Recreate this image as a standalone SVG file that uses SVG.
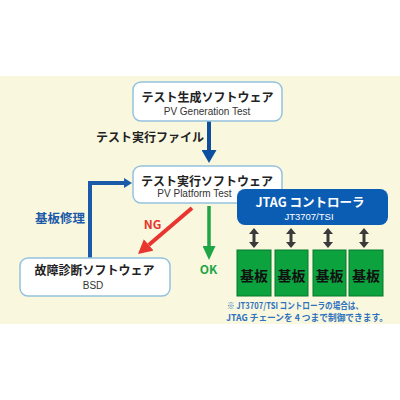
<svg xmlns="http://www.w3.org/2000/svg" width="400" height="400" viewBox="0 0 400 400">
<style>
.jp{font-family:"Noto Sans CJK JP","Liberation Sans",sans-serif;font-weight:bold;}
.lat{font-family:"Liberation Sans","Noto Sans CJK JP",sans-serif;}
.box{fill:#ffffff;stroke:#94c2de;stroke-width:1.5;}
.board{fill:#0ca23e;stroke:#06792c;stroke-width:1;}
.ttl{font-size:12px;fill:#222222;text-anchor:middle;}
.sub{font-size:10px;fill:#333333;text-anchor:middle;}
</style>
<defs>
<marker id="hBlue" markerUnits="userSpaceOnUse" viewBox="0 0 13 15" markerWidth="13" markerHeight="15" refX="0" refY="7.5" orient="auto"><path d="M0,0 L13,7.5 L0,15 z" fill="#0c4f9e"/></marker>
<marker id="hBlueS" markerUnits="userSpaceOnUse" viewBox="0 0 8 10" markerWidth="8" markerHeight="10" refX="0" refY="5" orient="auto"><path d="M0,0 L8,5 L0,10 z" fill="#1a5aa8"/></marker>
<marker id="hRed" markerUnits="userSpaceOnUse" viewBox="0 0 14 15" markerWidth="14" markerHeight="15" refX="0" refY="7.5" orient="auto"><path d="M0,0 L14,7.5 L0,15 z" fill="#e83530"/></marker>
<marker id="hGreen" markerUnits="userSpaceOnUse" viewBox="0 0 14 13" markerWidth="14" markerHeight="13" refX="0" refY="6.5" orient="auto"><path d="M0,0 L14,6.5 L0,13 z" fill="#1ea546"/></marker>
<marker id="hGray" markerUnits="userSpaceOnUse" viewBox="0 0 6 10" markerWidth="6" markerHeight="10" refX="0" refY="5" orient="auto-start-reverse"><path d="M0,0 L6,5 L0,10 z" fill="#3a3a3a"/></marker>
</defs>
<rect x="0" y="76" width="400" height="248" fill="#f9f8df"/>

<g id="connectors">
<path d="M209,121 V150" stroke="#0c4f9e" stroke-width="4" fill="none" marker-end="url(#hBlue)"/>
<path d="M90,258 V183 H124" stroke="#1a5aa8" stroke-width="4" fill="none" marker-end="url(#hBlueS)"/>
<path d="M192,208 L148.7,244.9" stroke="#e83530" stroke-width="4" fill="none" marker-end="url(#hRed)"/>
<path d="M209,206 V246" stroke="#1ea546" stroke-width="3.5" fill="none" marker-end="url(#hGreen)"/>
<g stroke="#3a3a3a" stroke-width="3" fill="none" marker-start="url(#hGray)" marker-end="url(#hGray)">
<path d="M254,234 V242"/>
<path d="M291,234 V242"/>
<path d="M328,234 V242"/>
<path d="M364,234 V242"/>
</g>
<text class="jp" x="150" y="142" font-size="12" fill="#222222" text-anchor="middle">テスト実行ファイル</text>
<text class="jp" x="60" y="223" font-size="12.5" fill="#1a5aa8" text-anchor="middle">基板修理</text>
<text class="jp" x="152.5" y="229" font-size="12" fill="#e83530" text-anchor="middle">NG</text>
<text class="jp" x="208.5" y="274" font-size="12" fill="#1ea546" text-anchor="middle">OK</text>
</g>

<g id="gen">
<rect class="box" x="133" y="82" width="149" height="39" rx="8"/>
<text class="jp ttl" x="207.5" y="102">テスト生成ソフトウェア</text>
<text class="lat sub" x="207" y="115">PV Generation Test</text>
</g>

<g id="exec">
<rect class="box" x="133" y="166" width="149" height="37" rx="8"/>
<text class="jp ttl" x="207" y="185.5">テスト実行ソフトウェア</text>
<text class="lat sub" x="194.5" y="197">PV Platform Test</text>
</g>

<g id="bsd">
<rect class="box" x="20" y="258" width="150" height="38" rx="8"/>
<text class="jp ttl" x="94.5" y="275">故障診断ソフトウェア</text>
<text class="lat sub" x="93" y="289">BSD</text>
</g>

<g id="jtag">
<rect x="237" y="189" width="151" height="36" rx="8" fill="#0b5db3"/>
<text class="jp" x="310" y="206.5" font-size="12.5" fill="#ffffff" text-anchor="middle">JTAG コントローラ</text>
<text class="lat" x="309" y="220" font-size="9.5" fill="#ffffff" text-anchor="middle">JT3707/TSI</text>
</g>

<g id="board1"><rect class="board" x="237" y="250" width="34" height="46"/><text class="jp" x="254" y="281" font-size="14" fill="#111111" text-anchor="middle">基板</text></g>
<g id="board2"><rect class="board" x="275" y="250" width="33" height="46"/><text class="jp" x="291.5" y="281" font-size="14" fill="#111111" text-anchor="middle">基板</text></g>
<g id="board3"><rect class="board" x="313" y="250" width="33" height="46"/><text class="jp" x="329.5" y="281" font-size="14" fill="#111111" text-anchor="middle">基板</text></g>
<g id="board4"><rect class="board" x="349" y="250" width="34" height="46"/><text class="jp" x="366" y="281" font-size="14" fill="#111111" text-anchor="middle">基板</text></g>

<g id="note">
<text class="jp" x="227" y="308.5" font-size="9" fill="#2f72bd" font-weight="normal" textLength="136" lengthAdjust="spacingAndGlyphs">※ JT3707/TSI コントローラの場合は、</text>
<text class="jp" x="226" y="320.5" font-size="9" fill="#2f72bd" font-weight="normal" textLength="162" lengthAdjust="spacingAndGlyphs">JTAG チェーンを 4 つまで制御できます。</text>
</g>
</svg>
